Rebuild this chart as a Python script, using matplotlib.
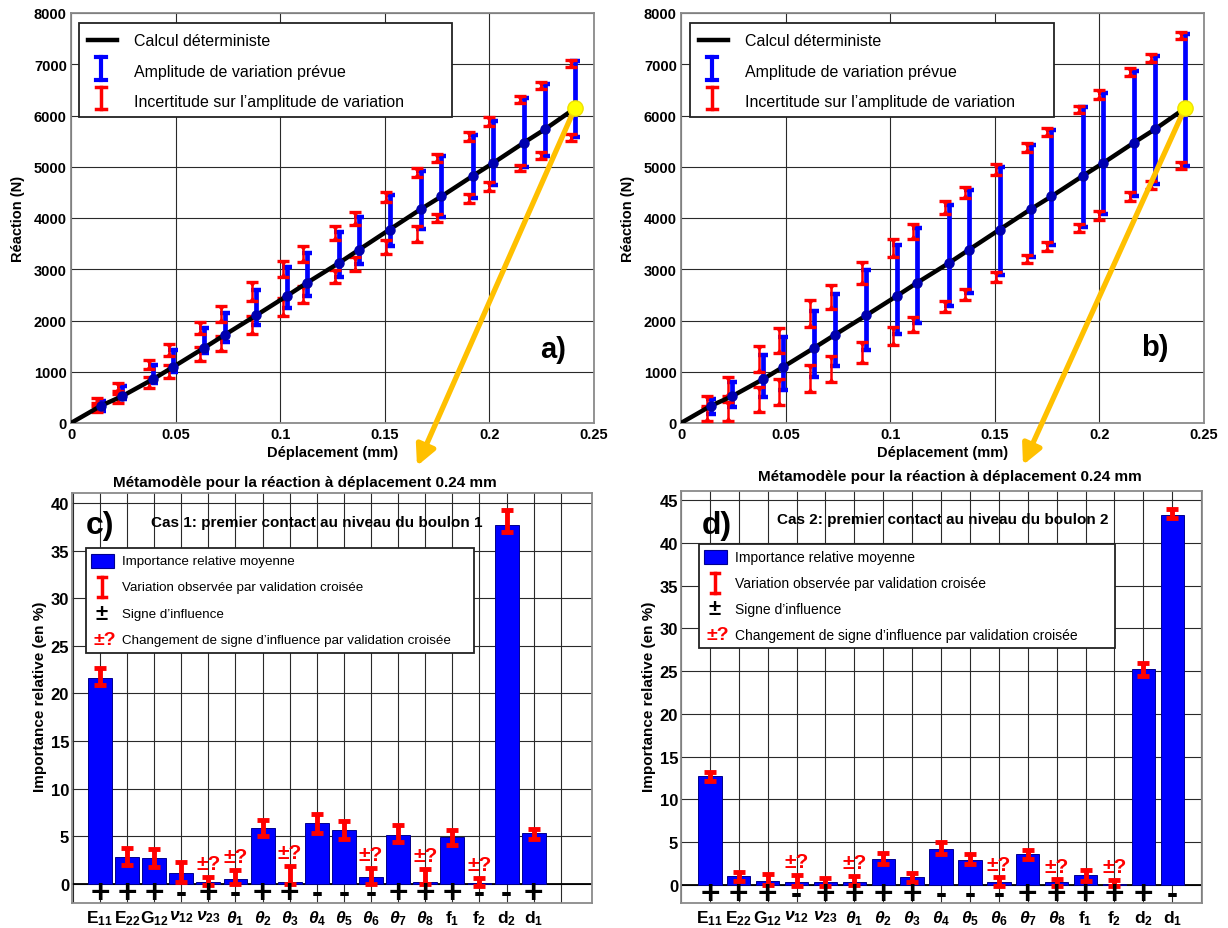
import numpy as np
import matplotlib
matplotlib.use('Agg')
import matplotlib.pyplot as plt
from matplotlib.transforms import Affine2D, ScaledTranslation
from matplotlib.patches import Rectangle
from matplotlib.lines import Line2D
from matplotlib.path import Path

plt.rcParams['font.family'] = ['Liberation Sans', 'DejaVu Sans']
plt.rcParams['mathtext.fontset'] = 'custom'
plt.rcParams['mathtext.rm'] = 'Liberation Sans:bold'
plt.rcParams['mathtext.it'] = 'Liberation Sans:italic:bold'
plt.rcParams['mathtext.bf'] = 'Liberation Sans:bold'

# ---------------- data : top panels ----------------
displacement = [0.0145, 0.0243, 0.0390, 0.0487, 0.0638, 0.0735, 0.0885, 0.1032, 0.1128,
                0.1280, 0.1378, 0.1523, 0.1671, 0.1771, 0.1920, 0.2018, 0.2166, 0.2265, 0.2408]
reaction_det = [340, 520, 850, 1090, 1470, 1720, 2100, 2480, 2735, 3120, 3385, 3775, 4170,
                4423, 4820, 5073, 5473, 5730, 6137]
curve_disp = [0.0] + displacement
curve_reac = [0.0] + reaction_det

a_blue_lo = [241, 468, 780, 1002, 1366, 1574, 1912, 2237, 2485, 2842, 3102, 3460, 3785, 4013, 4384, 4644, 4989, 5216, 5574]
a_blue_hi = [436, 715, 1138, 1431, 1847, 2146, 2602, 3050, 3317, 3733, 4026, 4449, 4924, 5216, 5620, 5899, 6341, 6615, 7070]
a_redup_lo = [390, 631, 1054, 1314, 1737, 1977, 2387, 2842, 3135, 3577, 3863, 4319, 4794, 5086, 5509, 5802, 6237, 6517, 6940]
a_redup_hi = [481, 780, 1236, 1541, 1977, 2289, 2745, 3167, 3447, 3850, 4110, 4514, 4969, 5249, 5671, 5964, 6387, 6647, 7090]
a_reddn_lo = [208, 390, 676, 878, 1216, 1411, 1737, 2094, 2342, 2732, 2973, 3297, 3525, 3928, 4293, 4533, 4911, 5151, 5509]
a_reddn_hi = [325, 566, 891, 1132, 1476, 1704, 2094, 2433, 2667, 2992, 3232, 3577, 3850, 4078, 4468, 4696, 5041, 5281, 5639]

b_blue_lo = [176, 306, 501, 650, 891, 1106, 1431, 1737, 1951, 2290, 2537, 2888, 3232, 3473, 3831, 4078, 4436, 4664, 5021]
b_blue_hi = [468, 806, 1327, 1672, 2192, 2517, 2992, 3473, 3798, 4254, 4553, 4989, 5424, 5717, 6159, 6432, 6875, 7154, 7590]
b_redup_lo = [300, 533, 1002, 1366, 1867, 2224, 2712, 3233, 3590, 4078, 4384, 4839, 5294, 5593, 6049, 6322, 6764, 7037, 7493]
b_redup_hi = [520, 891, 1496, 1847, 2400, 2699, 3135, 3590, 3883, 4325, 4598, 5054, 5463, 5749, 6179, 6504, 6920, 7200, 7623]
b_reddn_lo = [30, 46, 208, 351, 598, 793, 1164, 1522, 1769, 2159, 2407, 2745, 3122, 3363, 3720, 3967, 4338, 4566, 4956]
b_reddn_hi = [330, 403, 696, 859, 1132, 1301, 1587, 1867, 2062, 2387, 2615, 2953, 3278, 3525, 3883, 4143, 4501, 4728, 5086]

x_ticks_top = [0, 0.05, 0.1, 0.15, 0.2, 0.25]
x_ticklabels_top = ['0', '0.05', '0.1', '0.15', '0.2', '0.25']
y_ticks_top = [0, 1000, 2000, 3000, 4000, 5000, 6000, 7000, 8000]

# ---------------- data : bar panels ----------------
params = [r'$\mathbf{E_{11}}$', r'$\mathbf{E_{22}}$', r'$\mathbf{G_{12}}$', r'$\nu_{12}$', r'$\nu_{23}$',
          r'$\theta_{1}$', r'$\theta_{2}$', r'$\theta_{3}$', r'$\theta_{4}$', r'$\theta_{5}$',
          r'$\theta_{6}$', r'$\theta_{7}$', r'$\theta_{8}$', r'$\mathbf{f_{1}}$', r'$\mathbf{f_{2}}$',
          r'$\mathbf{d_{2}}$', r'$\mathbf{d_{1}}$']

c_importance = [21.6, 2.87, 2.7, 1.12, 0.25, 0.5, 5.85, 0.25, 6.37, 5.67, 0.77, 5.15, 0.25, 4.9, 0.05, 37.7, 5.3]
c_err_lo = [20.9, 2.0, 1.8, 0.18, -0.1, 0.0, 5.0, 0.0, 5.3, 4.7, 0.0, 4.45, 0.0, 4.1, -0.17, 36.95, 4.73]
c_err_hi = [22.7, 3.75, 3.7, 2.28, 0.77, 1.47, 6.7, 1.9, 7.3, 6.6, 1.65, 6.2, 1.58, 5.67, 0.67, 39.3, 5.78]
c_signs = ['+', '+', '+', '-', '+', '-', '+', '+', '-', '-', '-', '+', '+', '+', '-', '-', '+']
c_sign_change = [0, 0, 0, 0, 1, 1, 0, 1, 0, 0, 1, 0, 1, 0, 1, 0, 0]

d_importance = [12.8, 1.0, 0.5, 0.3, 0.3, 0.4, 3.05, 0.9, 4.2, 2.97, 0.3, 3.6, 0.3, 1.17, 0.08, 25.2, 43.3]
d_err_lo = [12.2, 0.5, 0.0, -0.1, -0.1, 0.0, 2.46, 0.4, 3.6, 2.46, -0.1, 3.1, -0.1, 0.5, -0.1, 24.4, 42.9]
d_err_hi = [13.2, 1.5, 1.3, 1.2, 0.8, 1.1, 3.8, 1.4, 5.07, 3.6, 0.9, 4.1, 0.7, 1.8, 0.6, 25.9, 44.0]
d_signs = ['+', '+', '+', '-', '+', '+', '+', '+', '-', '-', '-', '+', '+', '+', '+', '+', '-']
d_sign_change = [0, 0, 0, 1, 0, 1, 0, 0, 0, 0, 1, 0, 1, 0, 1, 0, 0]

# ---------------- figure ----------------
W, H = 1228, 929
fig = plt.figure(figsize=(W / 100, H / 100), dpi=100)
PX = Affine2D().scale(1 / W, -1 / H).translate(0, 1) + fig.transFigure

# triangle markers anchored at their flat edge (hourglass ends of the red intervals)
TRI_DOWN = Path([(-1.0, 0.0), (1.0, 0.0), (0.0, -1.4), (-1.0, 0.0)], closed=True)
TRI_UP = Path([(-1.0, 0.0), (1.0, 0.0), (0.0, 1.4), (-1.0, 0.0)], closed=True)


def add_ax(l, t, r, b):
    return fig.add_axes([l / W, 1 - b / H, (r - l) / W, (b - t) / H])


def ptext(x, y, s, **kw):
    fig.text(x, y, s, transform=PX, **kw)


def pline(xs, ys, **kw):
    fig.add_artist(Line2D(xs, ys, transform=PX, **kw))


def style_frame(ax):
    for s in ax.spines.values():
        s.set_color('#8a8a8a')
        s.set_linewidth(1.3)
    ax.set_axisbelow(True)
    ax.grid(True, color='#2a2a2a', lw=0.8)
    ax.tick_params(length=0)
    for lab in ax.get_xticklabels() + ax.get_yticklabels():
        lab.set_fontweight('bold')


def interval(ax, x, lo, hi, color, lw, capw, capt, trans, z, tri=0):
    x = np.asarray(x); lo = np.asarray(lo, float); hi = np.asarray(hi, float)
    ax.vlines(x, lo, hi, colors=color, lw=lw, transform=trans, zorder=z)
    ax.plot(x, lo, ls='none', marker='_', ms=capw, mew=capt, color=color, transform=trans, zorder=z)
    ax.plot(x, hi, ls='none', marker='_', ms=capw, mew=capt, color=color, transform=trans, zorder=z)
    if tri:
        ax.plot(x, hi, ls='none', marker=TRI_DOWN, ms=tri, mew=0, color=color, transform=trans, zorder=z)
        ax.plot(x, lo, ls='none', marker=TRI_UP, ms=tri, mew=0, color=color, transform=trans, zorder=z)


def top_panel(box, blo, bhi, rul, ruh, rdl, rdh, letter, letter_xy, leg_box, arrow_tip):
    ax = add_ax(*box)
    ax.set_xlim(0, 0.25)
    ax.set_ylim(0, 8000)
    ax.set_xticks(x_ticks_top)
    ax.set_xticklabels(x_ticklabels_top)
    ax.set_yticks(y_ticks_top)
    ax.tick_params(labelsize=10.5, pad=3)
    style_frame(ax)
    x = np.array(displacement)
    interval(ax, x, blo, bhi, '#0000FF', 3.4, 7, 3.2, ax.transData, 3)
    off = ax.transData + ScaledTranslation(-4 / 100, 0, fig.dpi_scale_trans)
    interval(ax, x, rul, ruh, '#FF0000', 1.8, 8, 2.4, off, 4, tri=7)
    interval(ax, x, rdl, rdh, '#FF0000', 1.8, 8, 2.4, off, 4, tri=7)
    ax.plot(curve_disp, curve_reac, color='black', lw=3.2, zorder=5, solid_capstyle='round')
    ax.plot(displacement[:-1], reaction_det[:-1], 'o', color='#0000B0', ms=6.5, zorder=6)
    ax.plot(displacement[-1:], reaction_det[-1:], 'o', color='#FFFF00', mec='#F0E000', ms=11, zorder=8)
    ax.annotate('', xy=arrow_tip, xycoords=PX, xytext=(displacement[-1], reaction_det[-1]),
                textcoords='data', annotation_clip=False, zorder=7,
                arrowprops=dict(arrowstyle='-|>,head_length=1.2,head_width=0.6', color='#FFC000',
                                lw=3.8, shrinkA=0, shrinkB=0))
    l, t, r, b = box
    ptext(l - 53, (t + b) / 2, 'Réaction (N)', rotation=90, ha='center', va='center',
          fontsize=10.5, fontweight='bold')
    ptext((l + r) / 2, 453, 'Déplacement (mm)', ha='center', va='center', fontsize=10.5, fontweight='bold')
    ptext(letter_xy[0], letter_xy[1], letter, ha='center', va='center', fontsize=21, fontweight='bold')
    # legend
    x0, y0, x1, y1 = leg_box
    fig.add_artist(Rectangle((x0, y0), x1 - x0, y1 - y0, transform=PX, fill=True, fc='white',
                             ec='#222222', lw=1.3, zorder=9))
    sx = x0 + 22
    tx = x0 + 55
    pline([x0 + 9, x0 + 38], [y0 + 17, y0 + 17], color='black', lw=3.2, zorder=10)
    pline([sx, sx], [y0 + 34, y0 + 57], color='#0000FF', lw=3, zorder=10)
    pline([sx - 5, sx + 5], [y0 + 34, y0 + 34], color='#0000FF', lw=3, zorder=10)
    pline([sx - 5, sx + 5], [y0 + 57, y0 + 57], color='#0000FF', lw=3, zorder=10)
    pline([sx, sx], [y0 + 64, y0 + 86], color='#FF0000', lw=2.5, zorder=10)
    pline([sx - 5, sx + 5], [y0 + 64, y0 + 64], color='#FF0000', lw=2.5, zorder=10)
    pline([sx - 5, sx + 5], [y0 + 86, y0 + 86], color='#FF0000', lw=2.5, zorder=10)
    for k, s in enumerate(['Calcul déterministe', 'Amplitude de variation prévue',
                           'Incertitude sur l\u2019amplitude de variation']):
        ptext(tx, y0 + 17 + 31 * k, s, ha='left', va='center', fontsize=11.5, zorder=10)
    return ax


def bar_panel(box, imp, elo, ehi, signs, change, xlim, ylim, yticks, ngrid, title, title_xy,
              case_txt, case_xy, letter, letter_xy, leg_box, leg_fs, bar_w):
    ax = add_ax(*box)
    pos = np.arange(1, len(imp) + 1)
    ax.bar(pos, imp, width=bar_w, color='#0000FF', edgecolor='#000090', lw=0.7, zorder=3)
    interval(ax, pos, elo, ehi, '#FF0000', 3.5, 8.5, 3.5, ax.transData, 4, tri=8)
    ax.axhline(0, color='black', lw=1.3, zorder=2.5)
    for p, s in zip(pos, signs):
        if s == '+':
            ax.text(p, ylim[0] * 0.5, '+', ha='center', va='center', fontsize=24, fontweight='bold', zorder=5)
        else:
            ax.text(p, ylim[0] * 0.5, '-', ha='center', va='center', fontsize=24, fontweight='bold', zorder=5)
    for p, c, h in zip(pos, change, ehi):
        if c:
            ax.text(p, h + 0.4, '±?', ha='center', va='bottom', color='#FF0000', fontsize=15,
                    fontweight='bold', zorder=5)
    ax.set_xlim(*xlim)
    ax.set_ylim(*ylim)
    xt = list(range(0, ngrid + 1))
    ax.set_xticks(xt)
    ax.set_xticklabels(['' if (k < 1 or k > len(params)) else params[k - 1] for k in xt])
    ax.set_yticks(yticks)
    ax.tick_params(axis='x', labelsize=12.5, pad=4)
    ax.tick_params(axis='y', labelsize=12, pad=2)
    style_frame(ax)
    l, t, r, b = box
    ptext(l - 32, 697, 'Importance relative (en %)', rotation=90, ha='center', va='center',
          fontsize=11, fontweight='bold')
    ptext(title_xy[0], title_xy[1], title, ha='center', va='center', fontsize=11, fontweight='bold')
    ptext(case_xy[0], case_xy[1], case_txt, ha='center', va='center', fontsize=11, fontweight='bold')
    ptext(letter_xy[0], letter_xy[1], letter, ha='center', va='center', fontsize=23, fontweight='bold')
    x0, y0, x1, y1 = leg_box
    fig.add_artist(Rectangle((x0, y0), x1 - x0, y1 - y0, transform=PX, fill=True, fc='white',
                             ec='#222222', lw=1.3, zorder=9))
    sx = x0 + 16
    tx = x0 + 36
    dy = (y1 - y0) / 4
    ys = [y0 + dy * (k + 0.5) for k in range(4)]
    fig.add_artist(Rectangle((x0 + 5, ys[0] - 7), 23, 14, transform=PX, fc='#0000FF', ec='#000090',
                             lw=0.8, zorder=10))
    pline([sx, sx], [ys[1] - 10, ys[1] + 10], color='#FF0000', lw=2.5, zorder=10)
    pline([sx - 4, sx + 4], [ys[1] - 10, ys[1] - 10], color='#FF0000', lw=2.5, zorder=10)
    pline([sx - 4, sx + 4], [ys[1] + 10, ys[1] + 10], color='#FF0000', lw=2.5, zorder=10)
    ptext(sx, ys[2], '±', ha='center', va='center', fontsize=16, fontweight='bold', zorder=10)
    ptext(sx + 3, ys[3], '±?', ha='center', va='center', fontsize=14, fontweight='bold',
          color='#FF0000', zorder=10)
    for k, s in enumerate(['Importance relative moyenne', 'Variation observée par validation croisée',
                           'Signe d\u2019influence',
                           'Changement de signe d\u2019influence par validation croisée']):
        ptext(tx, ys[k], s, ha='left', va='center', fontsize=leg_fs, zorder=10)
    return ax


top_panel((71, 14, 594, 424), a_blue_lo, a_blue_hi, a_redup_lo, a_redup_hi, a_reddn_lo, a_reddn_hi,
          'a)', (553, 350), (79, 24, 452, 118), (417, 467))
top_panel((681, 14, 1204, 424), b_blue_lo, b_blue_hi, b_redup_lo, b_redup_hi, b_reddn_lo, b_reddn_hi,
          'b)', (1155, 348), (690, 24, 1054, 118), (1023, 466))

bar_panel((72, 494, 592, 904), c_importance, c_err_lo, c_err_hi, c_signs, c_sign_change,
          (-0.03, 19.15), (-2.0, 41.05), [0, 5, 10, 15, 20, 25, 30, 35, 40], 18,
          'Métamodèle pour la réaction à déplacement 0.24 mm', (305, 483),
          'Cas 1: premier contact au niveau du boulon 1', (317, 523),
          'c)', (100, 526), (86, 549, 474, 654), 9.6, 0.88)
bar_panel((681, 492, 1202, 904), d_importance, d_err_lo, d_err_hi, d_signs, d_sign_change,
          (0.04, 18.03), (-2.1, 46.05), [0, 5, 10, 15, 20, 25, 30, 35, 40, 45], 18,
          'Métamodèle pour la réaction à déplacement 0.24 mm', (950, 477),
          'Cas 2: premier contact au niveau du boulon 2', (943, 520),
          'd)', (717, 526), (699, 545, 1115, 649), 10, 0.81)

fig.savefig('out.png', dpi=100, facecolor='white')
